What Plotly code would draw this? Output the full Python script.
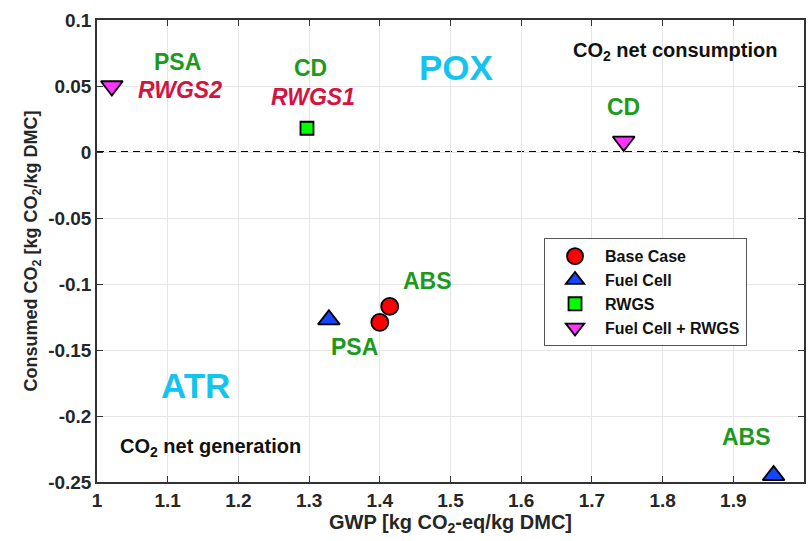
import plotly.graph_objects as go

# ---- data ----
series_names = ["Base Case", "Fuel Cell", "RWGS", "Fuel Cell + RWGS"]
base_gwp = [1.400, 1.414]
base_co2 = [-0.129, -0.117]
fc_gwp = [1.328, 1.957]
fc_co2 = [-0.127, -0.245]
rwgs_gwp = [1.297]
rwgs_co2 = [0.018]
fcr_gwp = [1.021, 1.745]
fcr_co2 = [0.050, 0.008]

x_ticks = [1, 1.1, 1.2, 1.3, 1.4, 1.5, 1.6, 1.7, 1.8, 1.9, 2]
x_ticklabels = ["1", "1.1", "1.2", "1.3", "1.4", "1.5", "1.6", "1.7", "1.8", "1.9", "2"]
y_ticks = [0.1, 0.05, 0, -0.05, -0.1, -0.15, -0.2, -0.25]
y_ticklabels = ["0.1", "0.05", "0", "-0.05", "-0.1", "-0.15", "-0.2", "-0.25"]
zero_level = 0

# annotations: text, x, y, kind
label_texts = ["PSA", "<i>RWGS2</i>", "CD", "<i>RWGS1</i>", "POX",
               "CO<sub>2</sub> net consumption", "CD", "ABS", "PSA", "ATR",
               "CO<sub>2</sub> net generation", "ABS"]
label_x = [1.114, 1.118, 1.302, 1.306, 1.509, 1.817, 1.745, 1.468, 1.364, 1.140, 1.161, 1.918]
label_y = [0.068, 0.047, 0.064, 0.042, 0.064, 0.076, 0.034, -0.098, -0.148, -0.177, -0.224, -0.216]
label_kind = ["tech", "rwgs", "tech", "rwgs", "big", "note", "tech", "tech", "tech", "big", "note", "tech"]

FONT = "Liberation Sans"
styles = {
    "tech": dict(color="#1d9a1d", size=23),
    "rwgs": dict(color="#d4143f", size=23),
    "big": dict(color="#14c4ee", size=35),
    "note": dict(color="#111111", size=20),
}

fig = go.Figure()
fig.add_trace(go.Scatter(x=base_gwp, y=base_co2, mode="markers", name=series_names[0],
                         marker=dict(symbol="circle", size=17, color="#ff0000",
                                     line=dict(color="black", width=1.8))))
fig.add_trace(go.Scatter(x=fc_gwp, y=fc_co2, mode="markers", name=series_names[1],
                         marker=dict(symbol="triangle-up", size=19, color="#1546ff",
                                     line=dict(color="black", width=1.8))))
fig.add_trace(go.Scatter(x=rwgs_gwp, y=rwgs_co2, mode="markers", name=series_names[2],
                         marker=dict(symbol="square", size=13, color="#00ff00",
                                     line=dict(color="black", width=1.8))))
fig.add_trace(go.Scatter(x=fcr_gwp, y=fcr_co2, mode="markers", name=series_names[3],
                         marker=dict(symbol="triangle-down", size=19, color="#ff33ff",
                                     line=dict(color="black", width=1.8))))

fig.add_shape(type="line", xref="paper", x0=0, x1=1, yref="y", y0=zero_level, y1=zero_level,
              line=dict(color="black", width=2, dash="7px,5px"), layer="below")

for t, x, y, k in zip(label_texts, label_x, label_y, label_kind):
    st = styles[k]
    fig.add_annotation(x=x, y=y, text=t, showarrow=False, xanchor="center", yanchor="middle",
                       font=dict(family=FONT, size=st["size"], color=st["color"], weight="bold"))

axis_common = dict(showline=True, linecolor="#333333", linewidth=1.5, mirror="ticks",
                   ticks="inside", ticklen=6, tickcolor="#333333", tickwidth=1,
                   showgrid=True, gridcolor="#e6e6e6", gridwidth=1, zeroline=False,
                   tickfont=dict(family=FONT, size=19, color="#262626", weight="bold"))

fig.update_xaxes(range=[1, 2], tickvals=x_ticks, ticktext=x_ticklabels,
                 title=dict(text="GWP [kg CO<sub>2</sub>-eq/kg DMC]", standoff=4,
                            font=dict(family=FONT, size=20, color="#262626", weight="bold")),
                 **axis_common)
fig.update_yaxes(range=[-0.25, 0.1], tickvals=y_ticks, ticktext=y_ticklabels,
                 title=dict(text="Consumed CO<sub>2</sub> [kg CO<sub>2</sub>/kg DMC]", standoff=6,
                            font=dict(family=FONT, size=18, color="#262626", weight="bold")),
                 **axis_common)

fig.update_layout(
    width=809, height=541,
    margin=dict(l=97, r=3, t=20, b=59),
    plot_bgcolor="white", paper_bgcolor="white",
    legend=dict(x=0.632, y=0.528, xanchor="left", yanchor="top",
                bgcolor="white", bordercolor="#555555", borderwidth=1.2,
                font=dict(family=FONT, size=16, color="#111111", weight="bold"),
                tracegroupgap=0, itemsizing="trace", itemwidth=50),
)

fig.write_html("out.html")
